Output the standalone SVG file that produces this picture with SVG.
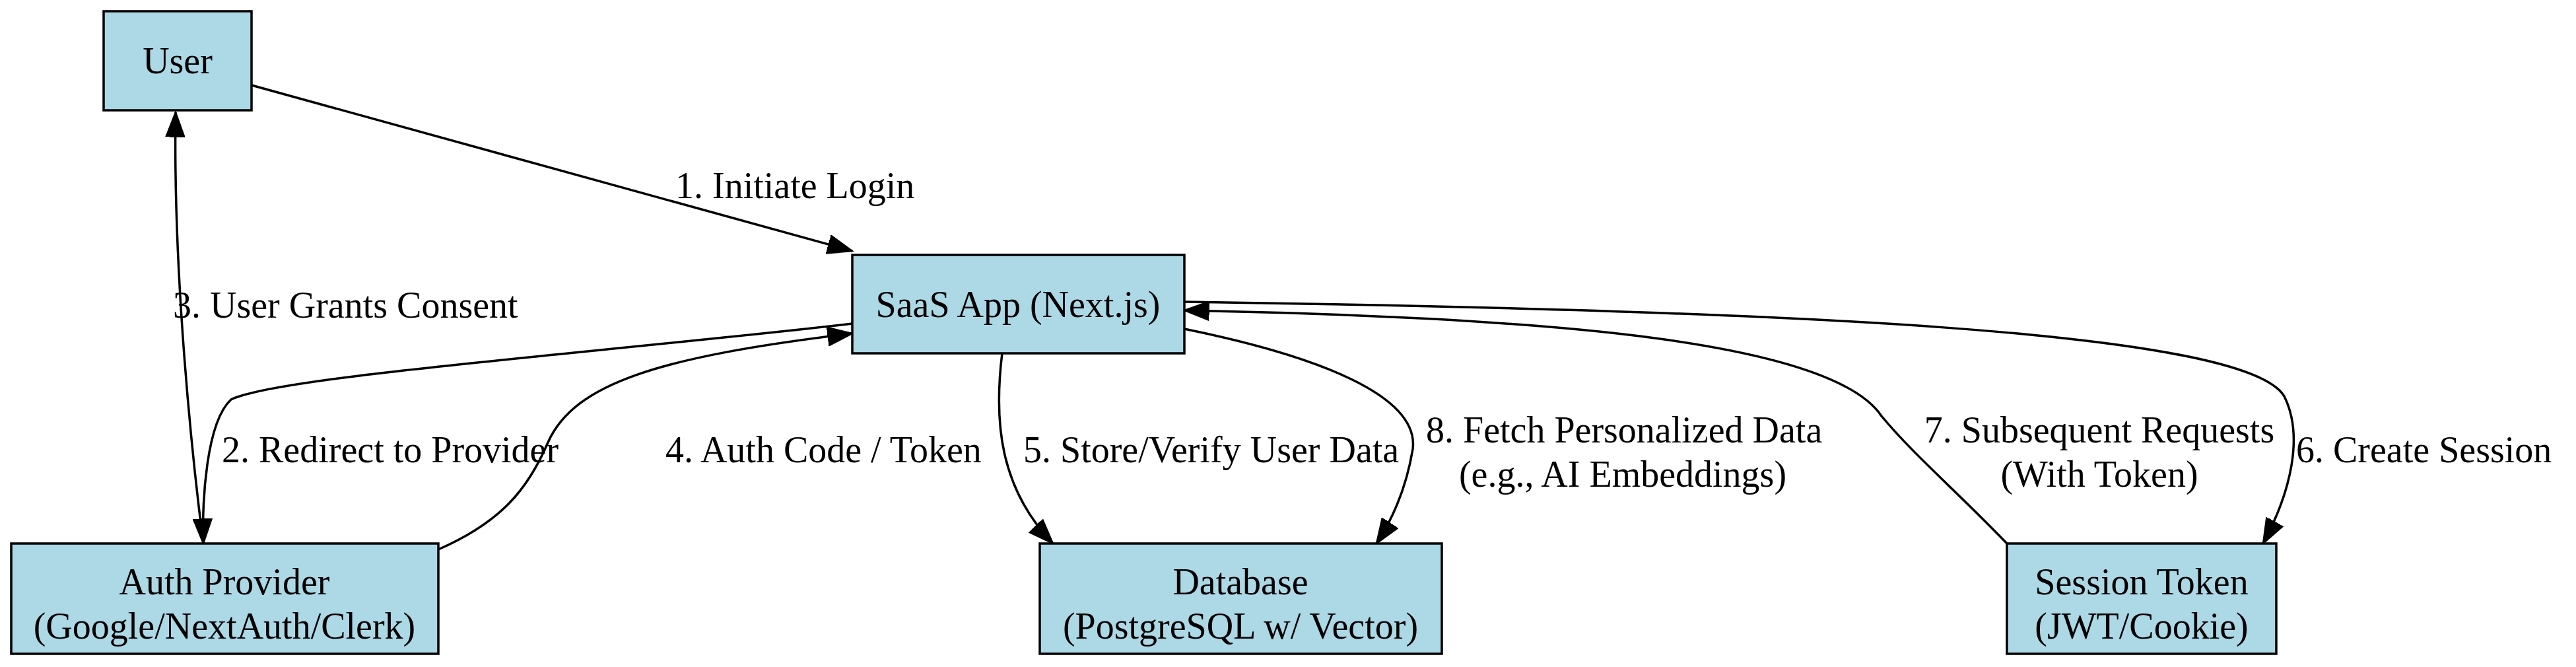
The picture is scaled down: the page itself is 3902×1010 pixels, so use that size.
<svg xmlns="http://www.w3.org/2000/svg" width="3902" height="1010" viewBox="0 0 3902 1010">
<style>
.n{fill:#add8e6;stroke:#000;stroke-width:3.5}
text{font-family:"Liberation Serif","Times New Roman",serif;font-size:56px;fill:#000}
.c{text-anchor:middle}
.e{fill:none;stroke:#000;stroke-width:3.5;marker-end:url(#a)}
</style>
<defs>
<marker id="a" markerUnits="userSpaceOnUse" markerWidth="40" markerHeight="30" refX="32" refY="12" orient="auto" viewBox="0 0 34 24">
<path d="M0,0 L32,12 L0,24 Z" fill="#000" stroke="#000" stroke-width="2"/>
</marker>
</defs>
<rect width="3902" height="1010" fill="#fff"/>
<g id="connectors">
<path class="e" d="M381,129 L1291,380"/>
<text x="1023" y="300">1. Initiate Login</text>
<path class="e" d="M308,823 C292,700 262,420 266,170"/>
<text x="262" y="481">3. User Grants Consent</text>
<path class="e" d="M1291,490 C900,535 420,570 350,605 C312,640 306,760 308,823"/>
<text x="336" y="700">2. Redirect to Provider</text>
<path class="e" d="M664,832 C760,790 800,740 830,670 C870,580 1000,540 1291,505"/>
<text x="1008" y="700">4. Auth Code / Token</text>
<path class="e" d="M1518,535 C1505,640 1515,740 1595,823"/>
<text x="1550" y="700">5. Store/Verify User Data</text>
<path class="e" d="M1794,498 C2000,540 2150,600 2140,680 C2130,740 2110,785 2085,823"/>
<text x="2160" y="670">8. Fetch Personalized Data</text>
<text class="c" x="2458" y="737">(e.g., AI Embeddings)</text>
<path class="e" d="M3040,823 C2960,740 2900,690 2850,630 C2770,510 2300,480 1794,470"/>
<text class="c" x="3180" y="670">7. Subsequent Requests</text>
<text class="c" x="3180" y="737">(With Token)</text>
<path class="e" d="M1794,457 C2700,470 3400,500 3460,600 C3490,660 3470,745 3428,823"/>
<text x="3478" y="700">6. Create Session</text>
</g>
<g id="user"><rect class="n" x="157" y="17" width="224" height="150"/><text class="c" x="269" y="111">User</text></g>
<g id="saas"><rect class="n" x="1291" y="386" width="503" height="149"/><text class="c" x="1542" y="480">SaaS App (Next.js)</text></g>
<g id="auth"><rect class="n" x="17" y="823" width="647" height="167"/><text class="c" x="340" y="900">Auth Provider</text><text class="c" x="340" y="967">(Google/NextAuth/Clerk)</text></g>
<g id="database"><rect class="n" x="1575" y="823" width="609" height="167"/><text class="c" x="1879" y="900">Database</text><text class="c" x="1879" y="967">(PostgreSQL w/ Vector)</text></g>
<g id="session"><rect class="n" x="3040" y="823" width="408" height="167"/><text class="c" x="3244" y="900">Session Token</text><text class="c" x="3244" y="967">(JWT/Cookie)</text></g>
</svg>
